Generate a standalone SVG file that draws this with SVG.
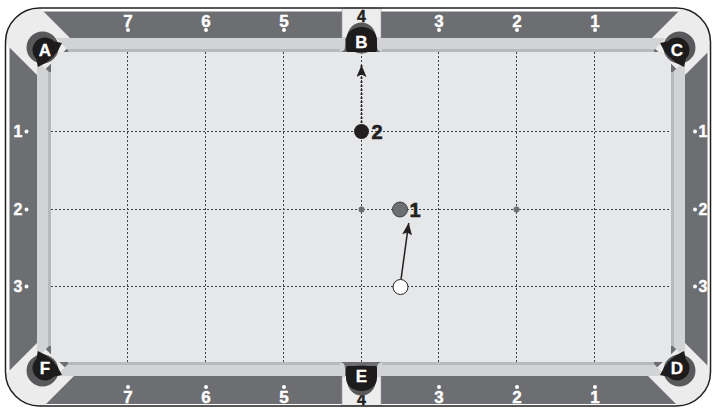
<svg xmlns="http://www.w3.org/2000/svg" width="713" height="411" viewBox="0 0 713 411">
<style>
.rail{fill:#6d6e71}
.band{fill:#ececed}
.cush{fill:#d1d3d4}
.nose{fill:none;stroke:#b7b9bb;stroke-width:3}
.bed{fill:#e6e7e8}
.grid{stroke:#414042;stroke-width:1;stroke-dasharray:2 2;fill:none}
.rn{font-family:"Liberation Sans",Arial,sans-serif;font-weight:bold;font-size:17px;fill:#ffffff;stroke:#ffffff;stroke-width:0.4;text-anchor:middle}
.sn{font-family:"Liberation Sans",Arial,sans-serif;font-weight:bold;font-size:16px;fill:#ffffff;stroke:#ffffff;stroke-width:0.4}
.pl{font-family:"Liberation Sans",Arial,sans-serif;font-weight:bold;font-size:17px;fill:#ffffff;stroke:#ffffff;stroke-width:0.3;text-anchor:middle}
.four{font-family:"Liberation Sans",Arial,sans-serif;font-weight:bold;font-size:16px;fill:#231f20;stroke:#231f20;stroke-width:0.4;text-anchor:middle}
.bl{font-family:"Liberation Sans",Arial,sans-serif;font-weight:bold;font-size:20px;fill:#231f20;stroke:#231f20;stroke-width:0.6}
.wd{fill:#ffffff}
.ring{fill:#58595b}
.pk{fill:#1e1b1c}
.notch{fill:#ededee;stroke:#9d9fa2;stroke-width:0.6}
</style>
<defs>
<clipPath id="frameClip"><rect x="5.5" y="8" width="705" height="398" rx="34"/></clipPath>
<g id="cp">
<circle class="ring" cx="-3.5" cy="0" r="16"/>
<path class="pk" d="M7,-17 Q14,0 7,17 L0,12.5 A12.5,12.5 0 0 1 0,-12.5 Z"/>
</g>
<marker id="ah" viewBox="0 0 12 10" markerWidth="12" markerHeight="10" refX="12" refY="5" orient="auto" markerUnits="userSpaceOnUse">
<path d="M0,0 L12,5 L0,10 L2.5,5 Z" fill="#231f20"/>
</marker>
</defs>

<g id="table">
<rect x="5.5" y="8" width="705" height="398" rx="34" fill="#ffffff"/>
<rect class="rail" x="9.5" y="11.5" width="698" height="392.5" rx="31"/>
<g clip-path="url(#frameClip)">
<polygon class="band" points="30,-2 74,42 38,76 -2,36"/>
<polygon class="band" points="692,-2 648,42 684,76 724,36"/>
<polygon class="band" points="30,420 74,376 38,342 -2,382"/>
<polygon class="band" points="692,420 648,376 684,342 724,382"/>
</g>
<rect class="notch" x="342" y="8" width="39" height="30"/>
<rect class="notch" x="342" y="376" width="39" height="30"/>
<rect class="bed" x="51" y="52" width="620" height="310"/>
<path class="cush" d="M56,38 L345,38 L345,46 Q345,52 339,52 L70,52 Z"/>
<path class="cush" d="M377,38 L666,38 L652,52 L383,52 Q377,52 377,46 Z"/>
<path class="cush" d="M56,376 L345,376 L345,368 Q345,362 339,362 L70,362 Z"/>
<path class="cush" d="M377,376 L666,376 L652,362 L383,362 Q377,362 377,368 Z"/>
<path class="cush" d="M37,60 L51,74 L51,344 L37,358 Z"/>
<path class="cush" d="M685,60 L671,74 L671,344 L685,358 Z"/>
<path class="nose" d="M68,50.5 L340,50.5 M382,50.5 L654,50.5 M68,363.5 L340,363.5 M382,363.5 L654,363.5 M49.5,72 L49.5,346 M672.5,72 L672.5,346"/>
<rect x="5.5" y="8" width="705" height="398" rx="34" fill="none" stroke="#231f20" stroke-width="1.5"/>
</g>

<g id="grid">
<path class="grid" d="M127.5,52 V362 M205.5,52 V362 M283.5,52 V362 M361.5,52 V362 M438.5,52 V362 M516.5,52 V362 M594.5,52 V362 M51,131.5 H671 M51,209.5 H671 M51,286.5 H671"/>
</g>

<g id="diamonds">
<text class="rn" x="128" y="27">7</text><circle class="wd" cx="128" cy="30" r="2"/>
<text class="rn" x="206" y="27">6</text><circle class="wd" cx="206" cy="30" r="2"/>
<text class="rn" x="284" y="27">5</text><circle class="wd" cx="284" cy="30" r="2"/>
<text class="rn" x="439" y="27">3</text><circle class="wd" cx="439" cy="30" r="2"/>
<text class="rn" x="517" y="27">2</text><circle class="wd" cx="517" cy="30" r="2"/>
<text class="rn" x="595" y="27">1</text><circle class="wd" cx="595" cy="30" r="2"/>
<text class="rn" x="128" y="403">7</text><circle class="wd" cx="128" cy="387" r="2"/>
<text class="rn" x="206" y="403">6</text><circle class="wd" cx="206" cy="387" r="2"/>
<text class="rn" x="284" y="403">5</text><circle class="wd" cx="284" cy="387" r="2"/>
<text class="rn" x="439" y="403">3</text><circle class="wd" cx="439" cy="387" r="2"/>
<text class="rn" x="517" y="403">2</text><circle class="wd" cx="517" cy="387" r="2"/>
<text class="rn" x="595" y="403">1</text><circle class="wd" cx="595" cy="387" r="2"/>
<text class="sn" x="22.5" y="137" text-anchor="end">1</text><circle class="wd" cx="26.5" cy="131.5" r="2"/>
<text class="sn" x="22.5" y="215" text-anchor="end">2</text><circle class="wd" cx="26.5" cy="209.5" r="2"/>
<text class="sn" x="22.5" y="292" text-anchor="end">3</text><circle class="wd" cx="26.5" cy="286.5" r="2"/>
<text class="sn" x="698.5" y="137">1</text><circle class="wd" cx="695" cy="131.5" r="2"/>
<text class="sn" x="698.5" y="215">2</text><circle class="wd" cx="695" cy="209.5" r="2"/>
<text class="sn" x="698.5" y="292">3</text><circle class="wd" cx="695" cy="286.5" r="2"/>
<text class="four" x="361.5" y="22">4</text>
<text class="four" x="361.5" y="405">4</text>
</g>

<g id="pocket-A"><use href="#cp" transform="translate(45,50) rotate(45)"/><text class="pl" x="45" y="56">A</text></g>
<g id="pocket-C"><use href="#cp" transform="translate(677,50) rotate(135)"/><text class="pl" x="677" y="56">C</text></g>
<g id="pocket-D"><use href="#cp" transform="translate(677,368) rotate(225)"/><text class="pl" x="677" y="374">D</text></g>
<g id="pocket-F"><use href="#cp" transform="translate(45,368) rotate(315)"/><text class="pl" x="45" y="374">F</text></g>
<g id="pocket-B">
<ellipse class="ring" cx="361.5" cy="38" rx="14.5" ry="15.5"/>
<path class="pk" d="M346,50 L346,40 A15.5,13 0 0 1 377,40 L377,50 Q377,52 375,52 L348,52 Q346,52 346,50 Z"/>
<text class="pl" x="361.5" y="48">B</text>
</g>
<g id="pocket-E">
<ellipse class="ring" cx="361.5" cy="380" rx="14.5" ry="15.5"/>
<path class="pk" d="M346,368 L346,378 A15.5,13 0 0 0 377,378 L377,368 Q377,366 375,366 L348,366 Q346,366 346,368 Z"/>
<text class="pl" x="361.5" y="382">E</text>
</g>

<g id="connectors">
<line x1="361.5" y1="123" x2="361.5" y2="65" stroke="#231f20" stroke-width="1.8" stroke-dasharray="2 2" marker-end="url(#ah)"/>
<line x1="401" y1="279.5" x2="408.7" y2="223" stroke="#231f20" stroke-width="1.5" marker-end="url(#ah)"/>
</g>

<g id="spot-1"><circle cx="361.5" cy="209.5" r="3" fill="#6d6e71"/></g>
<g id="spot-2"><circle cx="516.5" cy="209.5" r="3" fill="#6d6e71"/></g>
<g id="ball-2"><circle cx="361.5" cy="131.5" r="7.5" fill="#231f20"/><text class="bl" x="371.5" y="138.5">2</text></g>
<g id="ball-1"><circle cx="400" cy="209.5" r="7.5" fill="#6d6e71" stroke="#414042" stroke-width="1"/><text class="bl" x="409.5" y="216.5">1</text></g>
<g id="cue-ball"><circle cx="400.5" cy="287" r="7.5" fill="#ffffff" stroke="#231f20" stroke-width="1"/></g>
</svg>
